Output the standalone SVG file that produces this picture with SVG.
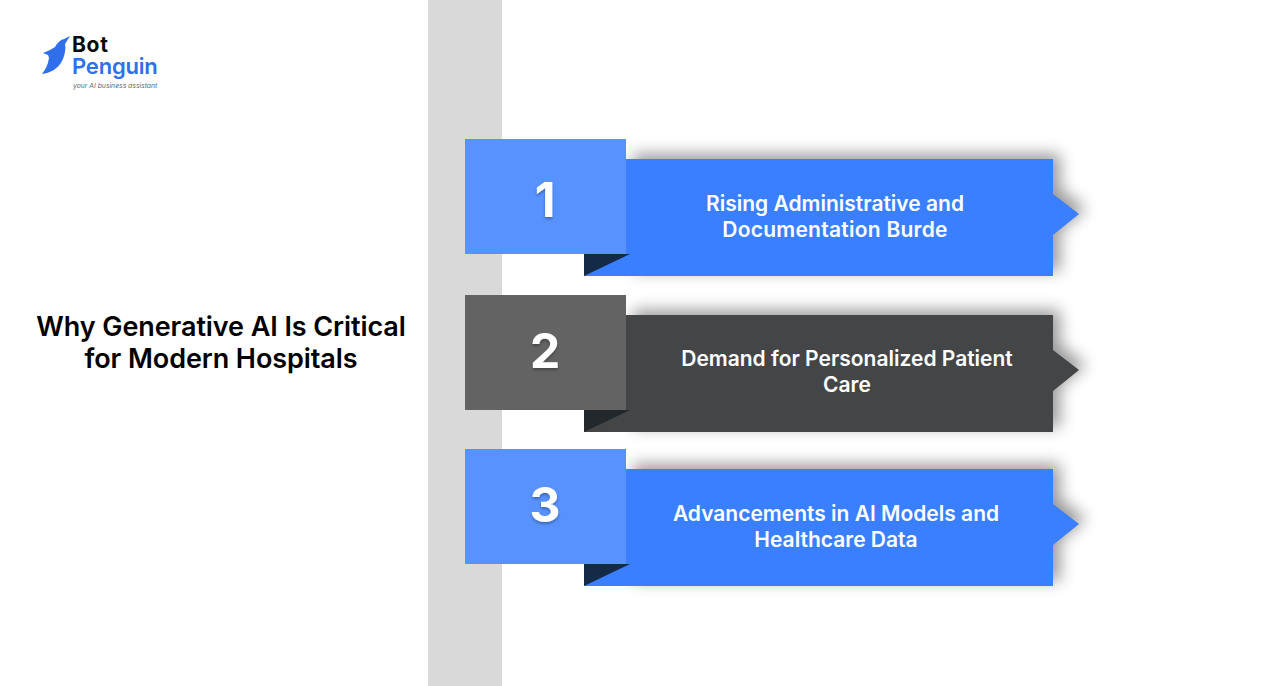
<svg xmlns="http://www.w3.org/2000/svg" width="1288" height="686" viewBox="0 0 1288 686">
<style>
text{font-family:"Inter","Liberation Sans",sans-serif;text-anchor:middle}
.t{font-size:27px;font-weight:600;fill:#000;letter-spacing:-.08px}
.l{font-size:21px;font-weight:600;fill:#fff;letter-spacing:0}
.n{font-size:48px;font-weight:700;fill:#fff;filter:url(#ts)}
.blue{fill:#3a7fff}.dark{fill:#444547}
.sqb{fill:#5792ff}.sqd{fill:#636363}
.fold{fill:#142b48}.foldd{fill:#22282c}
.sh{fill:#000;opacity:.4;filter:url(#bl)}
</style>
<defs>
<filter id="bl" x="-20%" y="-30%" width="140%" height="160%"><feGaussianBlur stdDeviation="8"/></filter>
<filter id="ts" x="-30%" y="-30%" width="160%" height="160%"><feDropShadow dx="0" dy="2" stdDeviation="1.5" flood-color="#000" flood-opacity=".3"/></filter>
<path id="rib" d="M584 159H1053V194L1079 214L1053 235V276H584Z"/>
<path id="ribs" d="M626 159H1053V194L1079 214L1053 235V276H626Z"/>
</defs>
<rect width="1288" height="686" fill="#fff"/>
<rect id="band" x="428" y="0" width="74" height="686" fill="#d9d9d9"/>
<g id="logo">
<path d="M70 36L64 39C60 40 57 43 55 47L50 50L43 53L48 55L49 58C48 65 45 70 42 74C50 73 58 69 62 61C65 55 66 48 65 44Z" fill="#2f6fec"/>
<text x="72" y="52" style="text-anchor:start;font-size:21px;font-weight:700;fill:#0a0a0a;letter-spacing:.7px">Bot</text>
<text x="72" y="74" style="text-anchor:start;font-size:22px;font-weight:600;fill:#2f6fec;letter-spacing:-.2px">Penguin</text>
<text x="73" y="88" style="text-anchor:start;font-size:6.8px;font-style:italic;fill:#666">your AI business assistant</text>
</g>
<g id="title">
<text class="t" x="221" y="336">Why Generative AI Is Critical</text>
<text class="t" x="221" y="368">for Modern Hospitals</text>
</g>
<g id="node1">
<use href="#ribs" class="sh" x="7" y="-5"/>
<use href="#rib" class="blue"/>
<path class="fold" d="M584 254H630L584 276Z"/>
<rect class="sqb" x="465" y="139" width="161" height="115"/>
<text class="n" x="545" y="217">1</text>
<text class="l" x="835" y="211">Rising Administrative and</text>
<text class="l" x="835" y="237" style="letter-spacing:.25px">Documentation Burde</text>
</g>
<g id="node2">
<use href="#ribs" class="sh" x="7" y="151"/>
<use href="#rib" class="dark" y="156"/>
<path class="foldd" d="M584 410H630L584 432Z"/>
<rect class="sqd" x="465" y="295" width="161" height="115"/>
<text class="n" x="545" y="368">2</text>
<text class="l" x="847" y="366">Demand for Personalized Patient</text>
<text class="l" x="847" y="392">Care</text>
</g>
<g id="node3">
<use href="#ribs" class="sh" x="7" y="305"/>
<use href="#rib" class="blue" y="310"/>
<path class="fold" d="M584 564H630L584 586Z"/>
<rect class="sqb" x="465" y="449" width="161" height="115"/>
<text class="n" x="545" y="522">3</text>
<text class="l" x="836" y="521">Advancements in AI Models and</text>
<text class="l" x="836" y="547">Healthcare Data</text>
</g>
</svg>
